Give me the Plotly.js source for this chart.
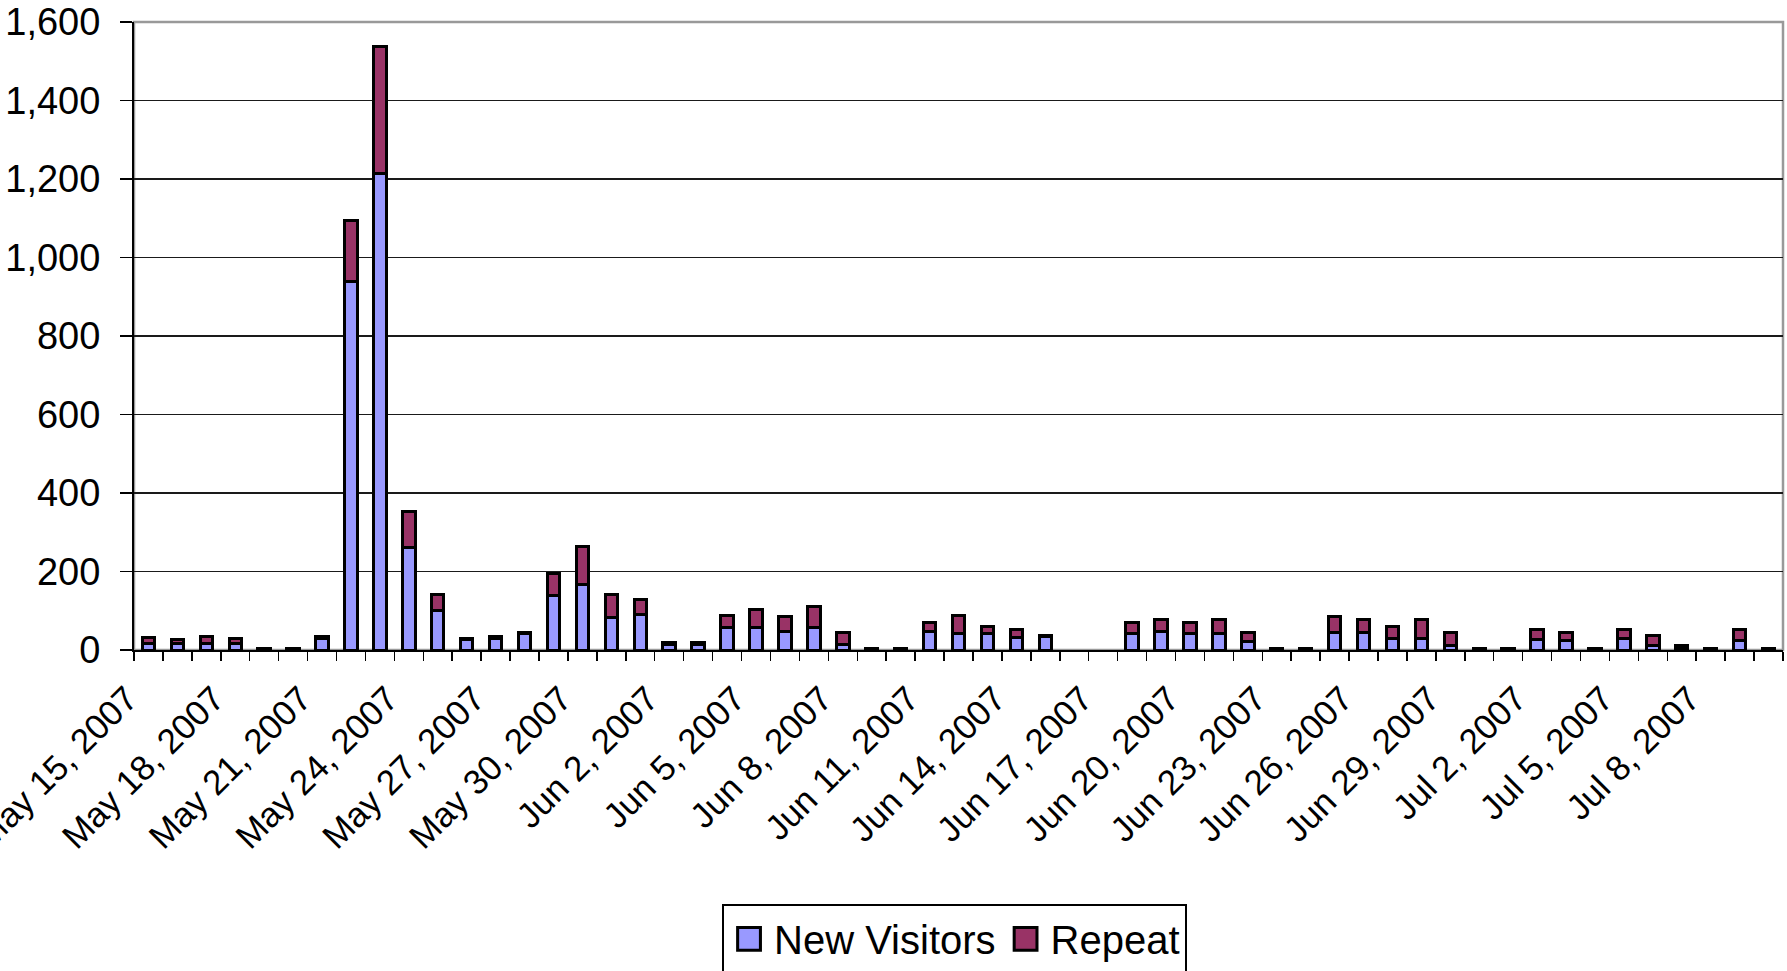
<!DOCTYPE html>
<html>
<head>
<meta charset="utf-8">
<script src="https://cdn.plot.ly/plotly-3.0.1.min.js"></script>
<style>
  html, body { margin: 0; padding: 0; background: #fff; }
  #chart { width: 1787px; height: 971px; }
</style>
</head>
<body>
<div id="chart"></div>
<script>
// Category labels (one bar per day)
const dates = [
  "May 15, 2007","May 16, 2007","May 17, 2007","May 18, 2007","May 19, 2007","May 20, 2007",
  "May 21, 2007","May 22, 2007","May 23, 2007","May 24, 2007","May 25, 2007","May 26, 2007",
  "May 27, 2007","May 28, 2007","May 29, 2007","May 30, 2007","May 31, 2007","Jun 1, 2007",
  "Jun 2, 2007","Jun 3, 2007","Jun 4, 2007","Jun 5, 2007","Jun 6, 2007","Jun 7, 2007",
  "Jun 8, 2007","Jun 9, 2007","Jun 10, 2007","Jun 11, 2007","Jun 12, 2007","Jun 13, 2007",
  "Jun 14, 2007","Jun 15, 2007","Jun 16, 2007","Jun 17, 2007","Jun 18, 2007","Jun 19, 2007",
  "Jun 20, 2007","Jun 21, 2007","Jun 22, 2007","Jun 23, 2007","Jun 24, 2007","Jun 25, 2007",
  "Jun 26, 2007","Jun 27, 2007","Jun 28, 2007","Jun 29, 2007","Jun 30, 2007","Jul 1, 2007",
  "Jul 2, 2007","Jul 3, 2007","Jul 4, 2007","Jul 5, 2007","Jul 6, 2007","Jul 7, 2007",
  "Jul 8, 2007","Jul 9, 2007","Jul 10, 2007"
];

// Series values; null = no data that day
const newVisitors = [
  16, 17, 17, 17, 3, 3,
  30, 940, 1215, 262, 100, 27,
  30, 42, 140, 168, 84, 90,
  15, 15, 58, 58, 48, 58,
  13, 3, 3, 46, 41, 42,
  32, 35, null, null, 43, 47,
  41, 41, 22, 3, 3, 45,
  45, 30, 30, 12, 3, 3,
  27, 25, 3, 30, 12, 6,
  3, 25, 3
];
const repeatVisitors = [
  16, 11, 18, 12, 1, 1,
  5, 155, 323, 92, 41, 3,
  4, 3, 55, 95, 57, 38,
  3, 3, 30, 44, 37, 53,
  32, 1, 1, 24, 47, 19,
  20, 2, null, null, 28, 30,
  30, 36, 23, 1, 1, 40,
  32, 30, 47, 33, 1, 1,
  24, 20, 1, 21, 25, 5,
  1, 26, 1
];

// Y axis ticks
const yTicks = [0, 200, 400, 600, 800, 1000, 1200, 1400, 1600];
// Every third date carries a label
const labelStep = 3;

const xIdx = dates.map((d, i) => i);
const labelVals = xIdx.filter(i => i % labelStep === 0);
const labelText = labelVals.map(i => dates[i]);
const boundaries = dates.map((d, i) => i - 0.5).concat([dates.length - 0.5]);

const FONT = "Liberation Sans, Arial, sans-serif";

const traces = [
  {
    type: "bar", name: "New Visitors", x: xIdx, y: newVisitors,
    marker: { color: "#9999FF", line: { color: "#000000", width: 3 } },
    hoverinfo: "y"
  },
  {
    type: "bar", name: "Repeat", x: xIdx, y: repeatVisitors,
    marker: { color: "#993366", line: { color: "#000000", width: 3 } },
    hoverinfo: "y"
  }
];

const layout = {
  width: 1787, height: 971,
  paper_bgcolor: "#ffffff", plot_bgcolor: "#ffffff",
  margin: { l: 134, r: 4, t: 22, b: 321, autoexpand: false },
  barmode: "stack",
  bargap: 0.57,
  font: { family: FONT, color: "#000000", size: 36 },
  showlegend: true,
  legend: {
    orientation: "h", traceorder: "normal",
    x: 0.3566, y: -0.405, xanchor: "left", yanchor: "top",
    bordercolor: "#000000", borderwidth: 2, bgcolor: "#ffffff",
    itemwidth: 40,
    font: { family: FONT, size: 40, color: "#000000" }
  },
  xaxis: {
    range: [-0.5, dates.length - 0.5],
    tickmode: "array", tickvals: labelVals, ticktext: labelText,
    ticks: "", tickangle: -45,
    ticklabeloverflow: "allow",
    ticklabelshift: -21,
    ticklabelstandoff: 12,
    tickfont: { family: FONT, size: 35, color: "#000000" },
    showline: true, linecolor: "#000000", linewidth: 2,
    showgrid: false, zeroline: false, fixedrange: true,
    minor: {
      tickmode: "array", tickvals: boundaries,
      ticks: "outside", ticklen: 9, tickwidth: 1.5, tickcolor: "#000000", showgrid: false
    }
  },
  yaxis: {
    range: [0, 1600],
    tickmode: "array", tickvals: yTicks,
    tickformat: ",d",
    ticks: "outside", ticklen: 12, tickwidth: 1.5, tickcolor: "#000000",
    ticklabelstandoff: 12,
    tickfont: { family: FONT, size: 38, color: "#000000" },
    showline: true, linecolor: "#000000", linewidth: 2,
    showgrid: true, gridcolor: "#1a1a1a", gridwidth: 1.8,
    zeroline: false, fixedrange: true
  },
  shapes: [
    {
      type: "rect", xref: "paper", yref: "paper", x0: 0, x1: 1, y0: 0, y1: 1,
      line: { color: "#999999", width: 2.5 }, fillcolor: "rgba(0,0,0,0)", layer: "below"
    }
  ]
};

Plotly.newPlot("chart", traces, layout, { displayModeBar: false, staticPlot: true }).then(gd => {
  // enlarge the legend swatches (keep Plotly's own placement transform)
  gd.querySelectorAll(".legend .legendpoints path").forEach(p => {
    const t = p.getAttribute("transform") || "";
    p.setAttribute("transform", t + " scale(1.9)");
    p.style.strokeWidth = "1.6px";
  });
});
</script>
</body>
</html>
